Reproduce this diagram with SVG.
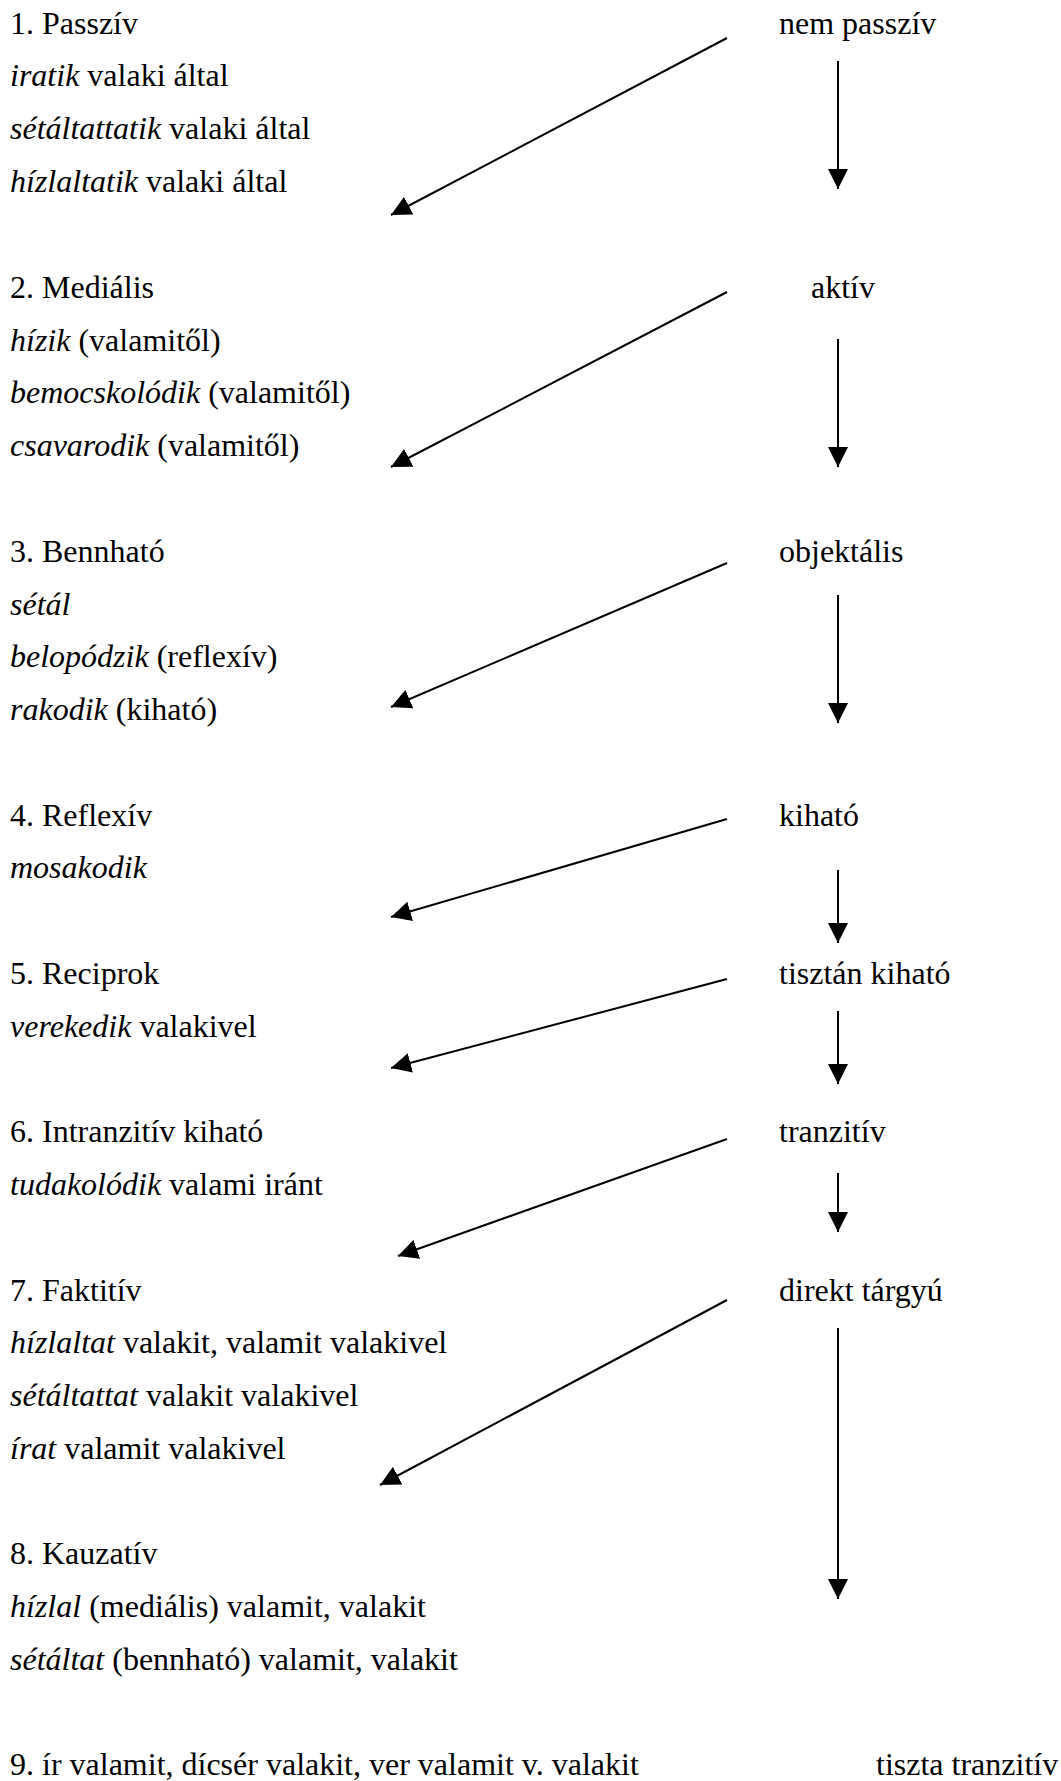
<svg xmlns="http://www.w3.org/2000/svg" width="1061" height="1781" viewBox="0 0 1061 1781">
<style>
text { font-family: "Liberation Serif", "Times New Roman", serif; font-size: 32px; fill: #000; }
.i { font-style: italic; }
#connectors line { stroke: #000; stroke-width: 2; fill: none; marker-end: url(#ah); }
</style>
<defs>
<marker id="ah" viewBox="0 0 20 20" refX="20" refY="10" markerWidth="20" markerHeight="20" markerUnits="userSpaceOnUse" orient="auto">
<path d="M0,0 L20,10 L0,20 z" fill="#000"/>
</marker>
</defs>
<rect width="1061" height="1781" fill="#fff"/>

<g id="node-passziv">
<text x="10" y="34">1. Passzív</text>
<text x="10" y="86"><tspan class="i">iratik</tspan> valaki által</text>
<text x="10" y="138.5"><tspan class="i">sétáltattatik</tspan> valaki által</text>
<text x="10" y="191.5"><tspan class="i">hízlaltatik</tspan> valaki által</text>
</g>
<g id="node-medialis">
<text x="10" y="297.9">2. Mediális</text>
<text x="10" y="350.6"><tspan class="i">hízik</tspan> (valamitől)</text>
<text x="10" y="403.4"><tspan class="i">bemocskolódik</tspan> (valamitől)</text>
<text x="10" y="456.2"><tspan class="i">csavarodik</tspan> (valamitől)</text>
</g>
<g id="node-bennhato">
<text x="10" y="561.7">3. Bennható</text>
<text x="10" y="614.5"><tspan class="i">sétál</tspan></text>
<text x="10" y="667.2"><tspan class="i">belopódzik</tspan> (reflexív)</text>
<text x="10" y="720">   <tspan class="i">rakodik</tspan> (kiható)</text>
</g>
<g id="node-reflexiv">
<text x="10" y="825.6">4. Reflexív</text>
<text x="10" y="878.3"><tspan class="i">mosakodik</tspan></text>
</g>
<g id="node-reciprok">
<text x="10" y="983.9">5. Reciprok</text>
<text x="10" y="1036.6"><tspan class="i">verekedik</tspan> valakivel</text>
</g>
<g id="node-intranzitiv">
<text x="10" y="1142.2">6. Intranzitív kiható</text>
<text x="10" y="1194.9"><tspan class="i">tudakolódik</tspan> valami iránt</text>
</g>
<g id="node-faktitiv">
<text x="10" y="1300.5">7. Faktitív</text>
<text x="10" y="1353.3"><tspan class="i">hízlaltat</tspan> valakit, valamit valakivel</text>
<text x="10" y="1406">   <tspan class="i">sétáltattat</tspan> valakit valakivel</text>
<text x="10" y="1458.8"><tspan class="i">írat</tspan> valamit valakivel</text>
</g>
<g id="node-kauzativ">
<text x="10" y="1564.3">8. Kauzatív</text>
<text x="10" y="1617.1"><tspan class="i">hízlal</tspan> (mediális) valamit, valakit</text>
<text x="10" y="1669.9"><tspan class="i">sétáltat</tspan> (bennható) valamit, valakit</text>
</g>
<g id="node-9">
<text x="10" y="1775.4">9. ír valamit, dícsér valakit, ver valamit v. valakit</text>
</g>

<g id="node-nem-passziv"><text x="779" y="34">nem passzív</text></g>
<g id="node-aktiv"><text x="811" y="297.9">aktív</text></g>
<g id="node-objektalis"><text x="779" y="561.7">objektális</text></g>
<g id="node-kihato"><text x="779" y="825.6">kiható</text></g>
<g id="node-tisztan-kihato"><text x="779" y="983.9">tisztán kiható</text></g>
<g id="node-tranzitiv"><text x="779" y="1142.2">tranzitív</text></g>
<g id="node-direkt-targyu"><text x="779" y="1300.5">direkt tárgyú</text></g>
<g id="node-tiszta-tranzitiv"><text x="876" y="1775.4">tiszta tranzitív</text></g>

<g id="connectors">
<line x1="727" y1="38" x2="391" y2="215"/>
<line x1="727" y1="292" x2="391" y2="467"/>
<line x1="727" y1="563" x2="391" y2="707"/>
<line x1="727" y1="819" x2="391" y2="917"/>
<line x1="727" y1="979" x2="391" y2="1068"/>
<line x1="727" y1="1139" x2="398" y2="1256"/>
<line x1="727" y1="1300" x2="380" y2="1485"/>
<line x1="838" y1="61" x2="838" y2="189"/>
<line x1="838" y1="339" x2="838" y2="467"/>
<line x1="838" y1="595" x2="838" y2="723"/>
<line x1="838" y1="870" x2="838" y2="943"/>
<line x1="838" y1="1011" x2="838" y2="1084"/>
<line x1="838" y1="1173" x2="838" y2="1232"/>
<line x1="838" y1="1328" x2="838" y2="1599"/>
</g>
</svg>
